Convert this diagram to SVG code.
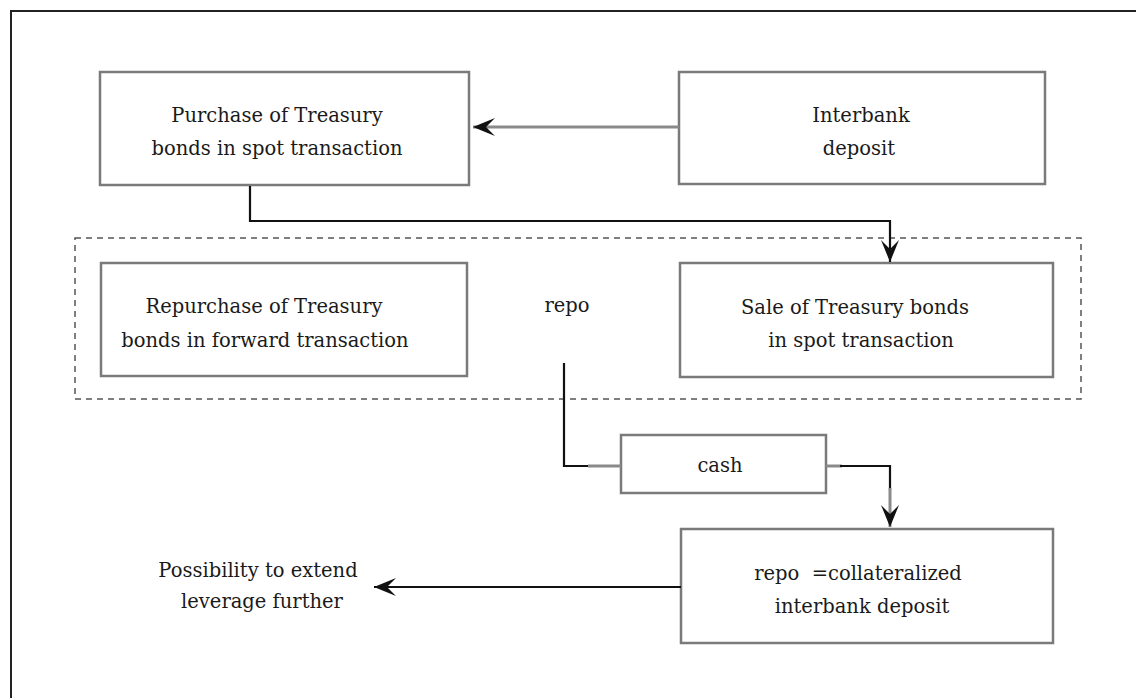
<svg xmlns="http://www.w3.org/2000/svg" width="1136" height="698" viewBox="0 0 1136 698">
<defs>
<style>
.box{fill:#fff;stroke:#7a7a7a;stroke-width:2.5}
.t{font-family:"DejaVu Serif","Liberation Serif",serif;font-size:19.5px;fill:#1a1a1a;text-anchor:middle}
.blk{fill:none;stroke:#111;stroke-width:2.2}
.gry{fill:none;stroke:#8a8a8a;stroke-width:3}
</style>
<marker id="ah" viewBox="-24 -10 26 20" refX="0" refY="0" markerWidth="26" markerHeight="20" markerUnits="userSpaceOnUse" orient="auto">
<path d="M0,0 L-22,-9 L-13,0 L-22,9 Z" fill="#111"/>
</marker>
</defs>
<rect width="1136" height="698" fill="#fff"/>
<rect x="11" y="11" width="1140" height="700" fill="none" stroke="#222" stroke-width="2"/>
<g id="group-repo">
<rect x="75" y="238" width="1006" height="161" fill="none" stroke="#555" stroke-width="1.5" stroke-dasharray="6,5"/>
<text class="t" x="567" y="312">repo</text>
</g>
<g id="purchase">
<rect class="box" x="100" y="72" width="369" height="113"/>
<text class="t" x="277" y="122">Purchase of Treasury</text>
<text class="t" x="277" y="155">bonds in spot transaction</text>
</g>
<g id="interbank">
<rect class="box" x="679" y="72" width="366" height="112"/>
<text class="t" x="861" y="122">Interbank</text>
<text class="t" x="859" y="155">deposit</text>
</g>
<g id="repurchase">
<rect class="box" x="101" y="263" width="366" height="113"/>
<text class="t" x="264" y="313">Repurchase of Treasury</text>
<text class="t" x="265" y="347">bonds in forward transaction</text>
</g>
<g id="sale">
<rect class="box" x="680" y="263" width="373" height="114"/>
<text class="t" x="855" y="314">Sale of Treasury bonds</text>
<text class="t" x="861" y="347">in spot transaction</text>
</g>
<g id="cash">
<rect class="box" x="621" y="435" width="205" height="58"/>
<text class="t" x="720" y="472">cash</text>
</g>
<g id="repo-deposit">
<rect class="box" x="681" y="529" width="372" height="114"/>
<text class="t" x="858" y="580" xml:space="preserve">repo  =collateralized</text>
<text class="t" x="862" y="613">interbank deposit</text>
</g>
<g id="possibility">
<text class="t" x="258" y="577">Possibility to extend</text>
<text class="t" x="262" y="608">leverage further</text>
</g>
<g id="connectors">
<path class="gry" d="M679,127 L473,127" marker-end="url(#ah)"/>
<path class="blk" d="M250,186 L250,221 L890,221 L890,262" marker-end="url(#ah)"/>
<path class="blk" d="M564,363 L564,466 L590,466"/>
<path class="gry" d="M588,466 L621,466"/>
<path class="gry" d="M826,466 L842,466"/>
<path class="blk" d="M840,466 L890,466 L890,490"/>
<path class="gry" d="M890,488 L890,527" marker-end="url(#ah)"/>
<path class="blk" d="M681,587 L374,587" marker-end="url(#ah)"/>
</g>
</svg>
